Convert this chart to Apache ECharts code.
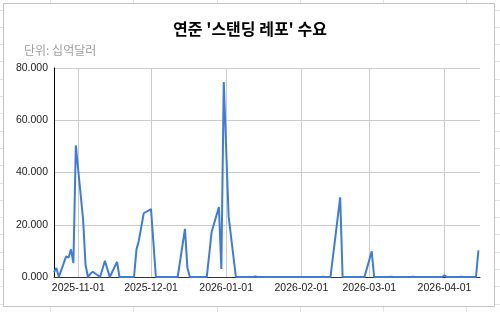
<!DOCTYPE html>
<html>
<head>
<meta charset="utf-8">
<script src="https://cdn.jsdelivr.net/npm/echarts@6/dist/echarts.min.js"></script>
<style>
  html, body { margin: 0; padding: 0; background: #ffffff; }
  #chart { width: 500px; height: 312px; }
</style>
</head>
<body>
<div id="chart"></div>
<script>
// ---- data (USD billions) ----
var dates = [
  '2025-10-22','2025-10-23','2025-10-24','2025-10-27','2025-10-28','2025-10-29','2025-10-30','2025-10-31',
  '2025-11-03','2025-11-04','2025-11-05','2025-11-06','2025-11-07','2025-11-10','2025-11-12','2025-11-13',
  '2025-11-14','2025-11-17','2025-11-18','2025-11-24','2025-11-25','2025-11-26','2025-11-28',
  '2025-12-01','2025-12-02','2025-12-03','2025-12-12','2025-12-15','2025-12-16','2025-12-17',
  '2025-12-24','2025-12-26','2025-12-29','2025-12-30','2025-12-31',
  '2026-01-02','2026-01-05','2026-01-12','2026-01-13','2026-01-14',
  '2026-02-09','2026-02-10','2026-02-11','2026-02-13','2026-02-17','2026-02-18',
  '2026-02-27','2026-03-02','2026-03-03','2026-03-09','2026-03-10','2026-03-11',
  '2026-03-18','2026-03-19','2026-03-20','2026-03-31','2026-04-01','2026-04-02',
  '2026-04-07','2026-04-08','2026-04-09','2026-04-14','2026-04-15'
];
var demand = [
  1.8, 3.4, 0, 7.9, 7.4, 10.6, 5.3, 50.35,
  22.0, 4.7, 0, 1.2, 2.0, 0, 6.2, 3.0,
  0, 5.8, 0, 0, 10.5, 14.0, 24.4,
  26.0, 13.0, 0, 0, 18.4, 3.5, 0,
  0, 17.25, 26.8, 3.1, 74.6,
  23.2, 0, 0, 0.2, 0,
  0, 0.1, 0, 0, 30.5, 0,
  0, 9.8, 0, 0, 0.1, 0,
  0, 0.1, 0, 0, 0.6, 0,
  0, 0.1, 0, 0, 10.2
];
var xTickLabels = ['2025-11-01','2025-12-01','2026-01-01','2026-02-01','2026-03-01','2026-04-01'];
var yTicks = [0, 20, 40, 60, 80];
var titleText = "연준 '스탠딩 레포' 수요";
var unitText = '단위: 십억달러';

function ts(s) {
  var p = s.split('-');
  return Date.UTC(+p[0], +p[1] - 1, +p[2]);
}
function fmt(v) {
  var d = new Date(v);
  var m = d.getUTCMonth() + 1, dd = d.getUTCDate();
  return d.getUTCFullYear() + '-' + (m < 10 ? '0' + m : m) + '-' + (dd < 10 ? '0' + dd : dd);
}
var seriesData = dates.map(function (d, i) { return [ts(d), demand[i]]; });
var tickValues = xTickLabels.map(ts);
var DAY = 86400000;

var decor = [];
// spreadsheet background lines outside the chart box
[50, 133, 217, 300, 383, 466].forEach(function (x) {
  decor.push({ type: 'line', silent: true, z: -10, shape: { x1: x + 0.5, y1: 0, x2: x + 0.5, y2: 3 }, style: { stroke: '#e2e2e2', lineWidth: 1 } });
  decor.push({ type: 'line', silent: true, z: -10, shape: { x1: x + 0.5, y1: 307, x2: x + 0.5, y2: 312 }, style: { stroke: '#e2e2e2', lineWidth: 1 } });
});
for (var r = 0; r < 18; r++) {
  var y = Math.round(9.5 + r * 17.3) + 0.5;
  decor.push({ type: 'line', silent: true, z: -10, shape: { x1: 0, y1: y, x2: 3, y2: y }, style: { stroke: '#e2e2e2', lineWidth: 1 } });
  decor.push({ type: 'line', silent: true, z: -10, shape: { x1: 495, y1: y, x2: 500, y2: y }, style: { stroke: '#e2e2e2', lineWidth: 1 } });
}
decor.push({ type: 'rect', silent: true, z: -5, shape: { x: 3.5, y: 3.5, width: 491, height: 303 }, style: { fill: '#ffffff', stroke: '#c4c4c4', lineWidth: 1 } });

var chart = echarts.init(document.getElementById('chart'), null, { renderer: 'canvas' });
chart.setOption({
  animation: false,
  backgroundColor: '#ffffff',
  graphic: decor,
  title: [
    {
      text: titleText,
      left: 'center',
      top: 16,
      textStyle: { fontFamily: 'Noto Sans CJK KR', fontSize: 16, fontWeight: 'bold', color: '#000000' }
    },
    {
      text: unitText,
      left: 19,
      top: 39,
      textStyle: { fontFamily: 'Noto Sans CJK KR', fontSize: 12, fontWeight: 'normal', color: '#9e9e9e' }
    }
  ],
  grid: { left: 54, right: 20, top: 68, bottom: 35 },
  xAxis: {
    type: 'value',
    min: ts('2025-10-22'),
    max: ts('2026-04-15') + 0.65 * DAY,
    axisLine: { show: true, onZero: false, lineStyle: { color: '#333333', width: 1 } },
    axisTick: { show: false, customValues: tickValues },
    splitLine: { show: true, lineStyle: { color: '#cccccc', width: 1 } },
    axisLabel: {
      customValues: tickValues,
      formatter: fmt,
      color: '#222222',
      fontFamily: 'Liberation Sans',
      fontSize: 10.5,
      margin: 6,
      hideOverlap: false,
      showMinLabel: true,
      showMaxLabel: true
    }
  },
  yAxis: {
    type: 'value',
    min: yTicks[0],
    max: yTicks[yTicks.length - 1],
    interval: 20,
    axisLine: { show: true, lineStyle: { color: '#000000', width: 1 } },
    axisTick: { show: false },
    splitLine: { show: true, lineStyle: { color: '#cccccc', width: 1 } },
    axisLabel: {
      formatter: function (v) { return v.toFixed(3); },
      color: '#222222',
      fontFamily: 'Liberation Sans',
      fontSize: 10.5,
      margin: 6
    }
  },
  series: [{
    type: 'line',
    data: seriesData,
    showSymbol: false,
    symbol: 'none',
    lineStyle: { color: '#3f7bd8', width: 2 },
    itemStyle: { color: '#3f7bd8' },
    clip: false
  }]
});
</script>
</body>
</html>
